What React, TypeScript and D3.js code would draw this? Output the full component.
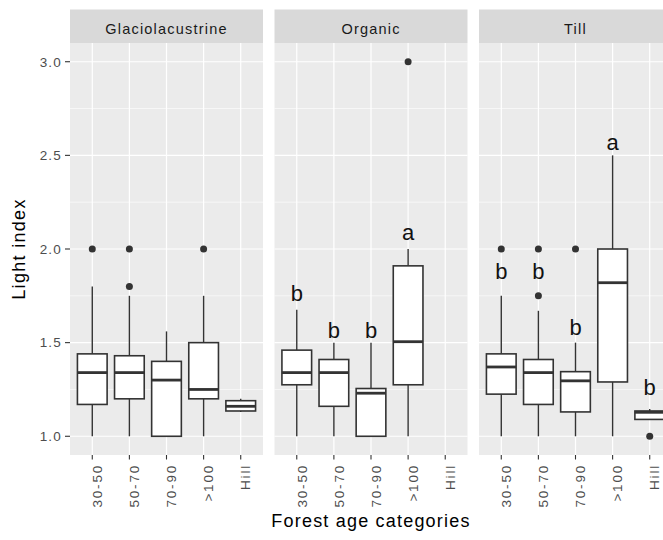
import React from "react";
import * as d3 from "d3";

const facets = ["Glaciolacustrine", "Organic", "Till"];
const categories = ["30-50", "50-70", "70-90", ">100", "Hill"];
const yTicks = [1.0, 1.5, 2.0, 2.5, 3.0];
const yMinor = [1.25, 1.75, 2.25, 2.75];

// Glaciolacustrine
const glacioLow = [1.0, 1.0, 1.0, 1.0, 1.13];
const glacioQ1 = [1.17, 1.2, 1.0, 1.2, 1.135];
const glacioMed = [1.34, 1.34, 1.3, 1.25, 1.16];
const glacioQ3 = [1.44, 1.43, 1.4, 1.5, 1.19];
const glacioHigh = [1.8, 1.75, 1.56, 1.75, 1.2];
const glacioOut = [[2.0], [2.0, 1.8], [], [2.0], []];
const glacioLetters = ["", "", "", "", ""];
const glacioLetterY = [0, 0, 0, 0, 0];

// Organic
const organicLow = [1.0, 1.0, 1.0, 1.0, null];
const organicQ1 = [1.275, 1.16, 1.0, 1.275, null];
const organicMed = [1.34, 1.34, 1.23, 1.505, null];
const organicQ3 = [1.46, 1.41, 1.255, 1.91, null];
const organicHigh = [1.675, 1.5, 1.5, 2.0, null];
const organicOut = [[], [], [], [3.0], []];
const organicLetters = ["b", "b", "b", "a", ""];
const organicLetterY = [1.72, 1.524, 1.524, 2.046, 0];

// Till
const tillLow = [1.0, 1.0, 1.0, 1.0, 1.09];
const tillQ1 = [1.225, 1.17, 1.13, 1.29, 1.09];
const tillMed = [1.37, 1.34, 1.296, 1.82, 1.128];
const tillQ3 = [1.44, 1.41, 1.345, 2.0, 1.135];
const tillHigh = [1.75, 1.67, 1.5, 2.5, 1.145];
const tillOut = [[2.0], [2.0, 1.75], [2.0], [], [1.0]];
const tillLetters = ["b", "b", "b", "a", "b"];
const tillLetterY = [1.84, 1.84, 1.54, 2.527, 1.22];

const facetData = [
  { low: glacioLow, q1: glacioQ1, med: glacioMed, q3: glacioQ3, high: glacioHigh, out: glacioOut, letters: glacioLetters, letterY: glacioLetterY },
  { low: organicLow, q1: organicQ1, med: organicMed, q3: organicQ3, high: organicHigh, out: organicOut, letters: organicLetters, letterY: organicLetterY },
  { low: tillLow, q1: tillQ1, med: tillMed, q3: tillQ3, high: tillHigh, out: tillOut, letters: tillLetters, letterY: tillLetterY },
];

const FONT = "'Liberation Sans', Arial, sans-serif";
const W = 663;
const H = 540;
const panelLeft = 70;
const panelW = 193;
const panelGap = 11.5;
const panelTop = 43;
const panelBottom = 455;
const stripTop = 9.5;

export default function App() {
  const y = d3.scaleLinear().domain([0.9, 3.1]).range([panelBottom, panelTop]);
  const ink = "#333333";

  return (
    <svg width={W} height={H} style={{ position: "absolute", left: 0, top: 0, background: "#fff" }} fontFamily={FONT}>
      {yTicks.map((t) => (
        <g key={"yt" + t}>
          <line x1={panelLeft - 5} x2={panelLeft} y1={y(t)} y2={y(t)} stroke={ink} strokeWidth={1.1} />
          <text x={panelLeft - 8} y={y(t)} dy="0.36em" textAnchor="end" fontSize={13.5} fill="#4D4D4D" letterSpacing={1.2}>
            {t.toFixed(1)}
          </text>
        </g>
      ))}
      {facets.map((f, fi) => {
        const x0 = panelLeft + fi * (panelW + panelGap);
        const x = d3.scalePoint<string>().domain(categories).range([x0, x0 + panelW]).padding(0.6);
        const bw = x.step() * 0.8;
        const d = facetData[fi];
        return (
          <g key={f}>
            <rect x={x0} y={stripTop} width={panelW} height={panelTop - stripTop} fill="#D9D9D9" />
            <text x={x0 + panelW / 2} y={33.5} textAnchor="middle" fontSize={14.5} fill="#1A1A1A" letterSpacing={1.2}>
              {f}
            </text>
            <rect x={x0} y={panelTop} width={panelW} height={panelBottom - panelTop} fill="#EBEBEB" />
            {yMinor.map((t) => (
              <line key={"mi" + t} x1={x0} x2={x0 + panelW} y1={y(t)} y2={y(t)} stroke="#fff" strokeWidth={0.6} />
            ))}
            {yTicks.map((t) => (
              <line key={"ma" + t} x1={x0} x2={x0 + panelW} y1={y(t)} y2={y(t)} stroke="#fff" strokeWidth={1.2} />
            ))}
            {categories.map((c) => (
              <line key={"v" + c} x1={x(c)} x2={x(c)} y1={panelTop} y2={panelBottom} stroke="#fff" strokeWidth={1.2} />
            ))}
            {categories.map((c, i) => {
              const cx = x(c) as number;
              const boxes = d.q1[i] == null ? null : (
                <g>
                  <line x1={cx} x2={cx} y1={y(d.high[i] as number)} y2={y(d.q3[i] as number)} stroke={ink} strokeWidth={1.4} />
                  <line x1={cx} x2={cx} y1={y(d.q1[i] as number)} y2={y(d.low[i] as number)} stroke={ink} strokeWidth={1.4} />
                  <rect
                    x={cx - bw / 2}
                    y={y(d.q3[i] as number)}
                    width={bw}
                    height={y(d.q1[i] as number) - y(d.q3[i] as number)}
                    fill="#fff"
                    stroke={ink}
                    strokeWidth={1.6}
                  />
                  <line x1={cx - bw / 2} x2={cx + bw / 2} y1={y(d.med[i] as number)} y2={y(d.med[i] as number)} stroke={ink} strokeWidth={2.8} />
                </g>
              );
              return (
                <g key={"b" + c}>
                  {boxes}
                  {d.out[i].map((o, k) => (
                    <circle key={k} cx={cx} cy={y(o)} r={3.5} fill={ink} />
                  ))}
                  {d.letters[i] ? (
                    <text x={cx} y={y(d.letterY[i])} textAnchor="middle" fontSize={22} fill="#111">
                      {d.letters[i]}
                    </text>
                  ) : null}
                  <line x1={cx} x2={cx} y1={panelBottom} y2={panelBottom + 4.5} stroke={ink} strokeWidth={1.1} />
                  <text
                    transform={`translate(${cx},${panelBottom + 9}) rotate(-90)`}
                    dy="0.72em"
                    textAnchor="end"
                    fontSize={13.5}
                    fill="#4D4D4D"
                    letterSpacing={1.8}
                  >
                    {c}
                  </text>
                </g>
              );
            })}
          </g>
        );
      })}
      <text transform={`translate(25,${(panelTop + panelBottom) / 2}) rotate(-90)`} textAnchor="middle" fontSize={18} fill="#000" letterSpacing={1.3}>
        Light index
      </text>
      <text x={371} y={527} textAnchor="middle" fontSize={18} fill="#000" letterSpacing={1.2}>
        Forest age categories
      </text>
    </svg>
  );
}
